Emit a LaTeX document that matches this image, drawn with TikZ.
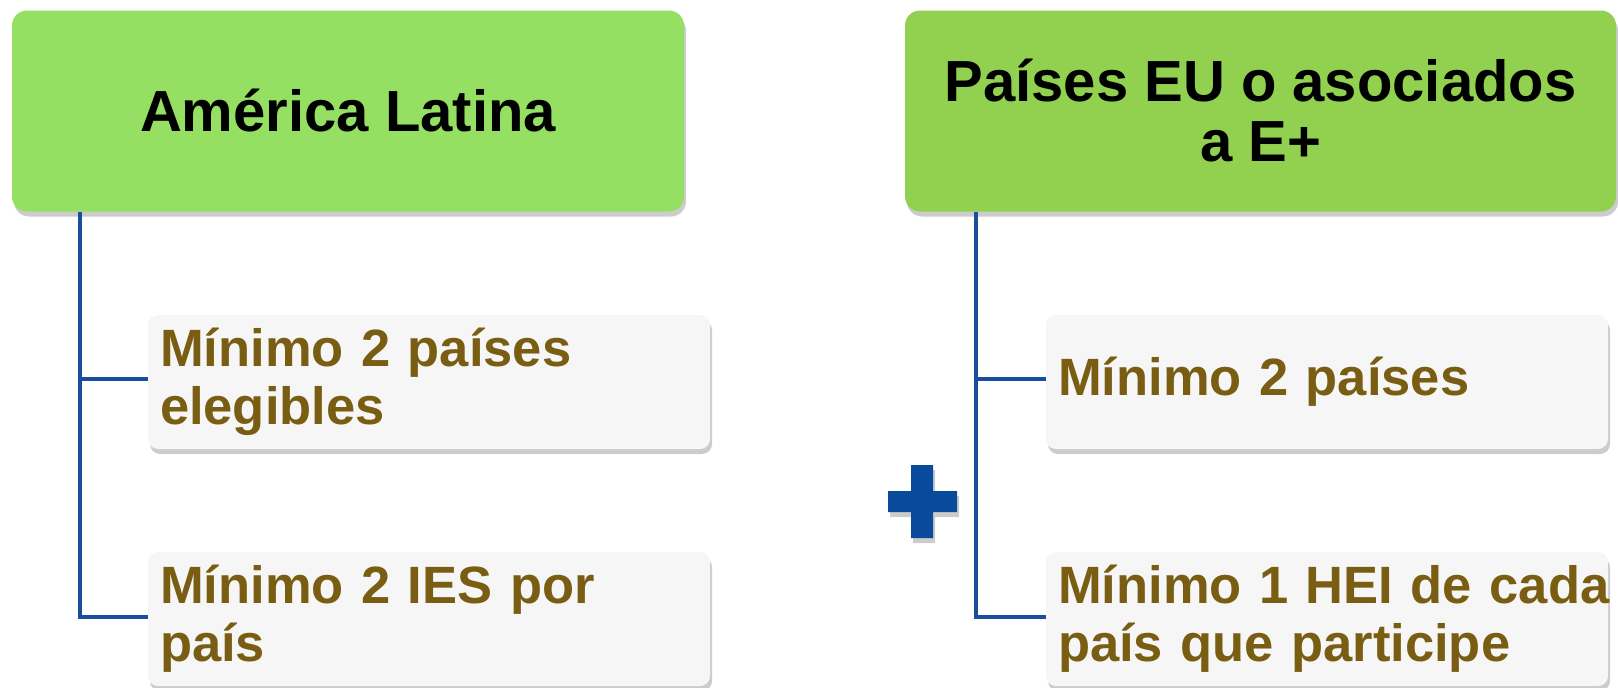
\documentclass[tikz,border=0pt]{standalone}
\usepackage{fontspec}
\setmainfont{Liberation Sans}
\usepackage{tikz}
\usetikzlibrary{shadows}
\definecolor{verdeA}{rgb}{0.584, 0.878, 0.384}
\definecolor{verdeB}{rgb}{0.573, 0.816, 0.314}
\definecolor{cajagris}{rgb}{0.965, 0.965, 0.965}
\definecolor{marron}{rgb}{0.475, 0.365, 0.071}
\definecolor{azul}{rgb}{0.098, 0.306, 0.624}
\definecolor{azulcruz}{rgb}{0.039, 0.290, 0.612}
\tikzstyle{sombra}=[drop shadow={shadow xshift=2pt,shadow yshift=-5pt,opacity=0.2,fill=black}]
\tikzstyle{cabecera}=[sombra,rounded corners=15pt,minimum height=201pt,align=center,text=black,font=\bfseries\fontsize{58}{60}\selectfont]
\tikzstyle{hoja}=[sombra,rounded corners=10pt,fill=cajagris,minimum height=134pt,text width=538pt,inner xsep=12pt,align=left,text=marron,font=\bfseries\fontsize{52.5}{58}\selectfont]
\tikzstyle{rama}=[azul,line width=3.5pt]

\begin{document}
\begin{tikzpicture}[x=1pt,y=-1pt]
\useasboundingbox (0,0) rectangle (1618,688);

  % cabeceras
  \node[cabecera,fill=verdeA,minimum width=672pt] (lat) at (348,111) {América Latina};
  \node[cabecera,fill=verdeB,minimum width=711pt] (eu) at (1260.5,111) {Países EU o asociados\\a E+};

  % requisitos
  \node[hoja] (lat1) at (429,382) {\mbox{Mínimo 2 países}\\elegibles};
  \node[hoja] (lat2) at (429,619) {\mbox{Mínimo 2 IES por}\\país};
  \node[hoja] (eu1) at (1327,382) {\mbox{Mínimo 2 países}};
  \node[hoja] (eu2) at (1327,619) {\mbox{Mínimo 1 HEI de cada}\\\mbox{país que participe}};

  \draw[rama] ([xshift=68pt]lat.south west) |- ([yshift=3pt]lat1.west);
  \draw[rama] ([xshift=68pt]lat.south west) |- ([yshift=2pt]lat2.west);
  \draw[rama] ([xshift=71pt]eu.south west) |- ([yshift=3pt]eu1.west);
  \draw[rama] ([xshift=71pt]eu.south west) |- ([yshift=2pt]eu2.west);

  % signo mas
  \fill[azulcruz,sombra] (911,465) rectangle (933,538) (888,491) rectangle (957,512);

\end{tikzpicture}
\end{document}
